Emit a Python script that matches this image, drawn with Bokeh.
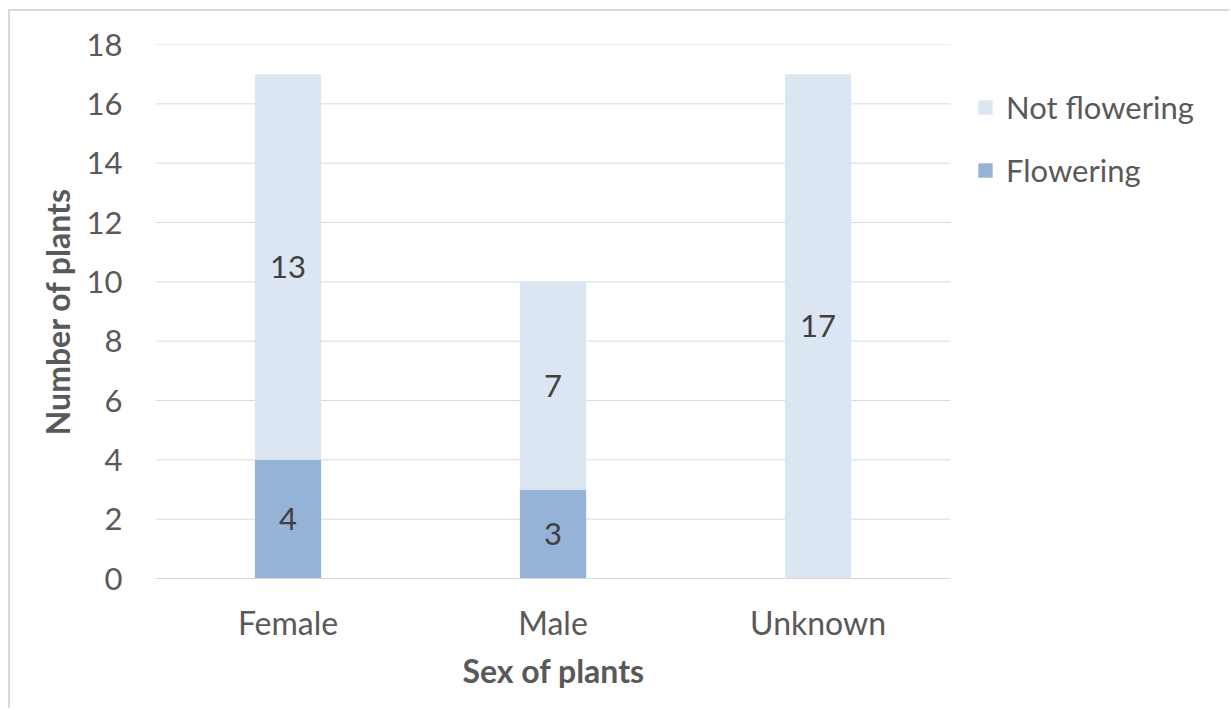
from bokeh.plotting import figure
from bokeh.models import ColumnDataSource, Legend, LegendItem, LabelSet, FixedTicker, Range1d, Title
from bokeh.core.properties import value
from bokeh.embed import file_html
from bokeh.resources import INLINE

# Plant counts by sex and flowering status
sexes = ["Female", "Male", "Unknown"]
flowering = [4, 3, 0]
not_flowering = [13, 7, 17]
y_ticks = [0, 2, 4, 6, 8, 10, 12, 14, 16, 18]

FONT = "Lato"
TEXT = "#595959"
GRID = "#d9d9d9"
C_FLOW = "#95b3d7"
C_NOT = "#dce6f2"

# one unit per category, bars at the category centres
xpos = [i + 0.5 for i in range(len(sexes))]
n_cat = len(sexes)

src = ColumnDataSource(dict(x=xpos, flowering=flowering, not_flowering=not_flowering))

# the frame also holds the legend area to the right of the categories
p = figure(x_range=Range1d(0, 4.06), y_range=(0, 18), width=1221, height=699,
           output_backend="svg", toolbar_location=None,
           min_border_left=145, min_border_right=0,
           min_border_top=33, min_border_bottom=132)
p.margin = (9, 0, 0, 8)
p.styles = {"border-top": "2px solid #d9d9d9", "border-left": "2px solid #d9d9d9"}
p.outline_line_color = None
p.background_fill_color = "white"
p.border_fill_color = "white"
p.xgrid.grid_line_color = None
p.ygrid.grid_line_color = None

# horizontal gridlines across the category area only
p.segment(x0=0, x1=n_cat, y0=y_ticks, y1=y_ticks, line_color=GRID, line_width=1)

renderers = p.vbar_stack(["flowering", "not_flowering"], x="x", width=0.25,
                         color=[C_FLOW, C_NOT], line_color=None, source=src)

# Segment labels centred in each segment
lab_x, lab_y, lab_t = [], [], []
for xc, f, n in zip(xpos, flowering, not_flowering):
    if f > 0:
        lab_x.append(xc); lab_y.append(f / 2); lab_t.append(str(f))
    if n > 0:
        lab_x.append(xc); lab_y.append(f + n / 2); lab_t.append(str(n))
lsrc = ColumnDataSource(dict(x=lab_x, y=lab_y, t=lab_t))
p.add_layout(LabelSet(x="x", y="y", text="t", source=lsrc, text_align="center",
                      text_baseline="middle", text_font=value(FONT),
                      text_font_size="31px", text_color="#404040"))

# Axes
p.yaxis.ticker = y_ticks
p.yaxis.axis_line_color = None
p.yaxis.major_tick_line_color = None
p.yaxis.minor_tick_line_color = None
p.yaxis.major_label_standoff = 27
p.yaxis.major_label_text_font = FONT
p.yaxis.major_label_text_font_size = "31px"
p.yaxis.major_label_text_color = TEXT
p.yaxis.axis_label = "Number of plants"
p.yaxis.axis_label_text_font = FONT
p.yaxis.axis_label_text_font_size = "32px"
p.yaxis.axis_label_text_font_style = "bold"
p.yaxis.axis_label_text_color = TEXT
p.yaxis.axis_label_standoff = 7

p.xaxis.ticker = FixedTicker(ticks=xpos)
p.xaxis.major_label_overrides = {xc: s for xc, s in zip(xpos, sexes)}
p.xaxis.bounds = (0, n_cat)
p.xaxis.axis_line_color = GRID
p.xaxis.major_tick_line_color = None
p.xaxis.minor_tick_line_color = None
p.xaxis.major_label_standoff = 18
p.xaxis.major_label_text_font = FONT
p.xaxis.major_label_text_font_size = "32px"
p.xaxis.major_label_text_color = TEXT

# x axis title, centred under the category area
p.add_layout(Title(text="Sex of plants", align="left", offset=307, standoff=8,
                   text_font=FONT, text_font_size="32px", text_font_style="bold",
                   text_color=TEXT), "below")

legend = Legend(items=[LegendItem(label="Not flowering", renderers=[renderers[1]]),
                       LegendItem(label="Flowering", renderers=[renderers[0]])],
                location=(821, 389), orientation="vertical",
                label_text_font=FONT, label_text_font_size="31px",
                label_text_color=TEXT, glyph_width=18, glyph_height=18,
                spacing=25, border_line_color=None, background_fill_alpha=0,
                label_standoff=12, margin=0, padding=0)
p.add_layout(legend, "center")

open("out.html", "w").write(file_html(p, INLINE))
